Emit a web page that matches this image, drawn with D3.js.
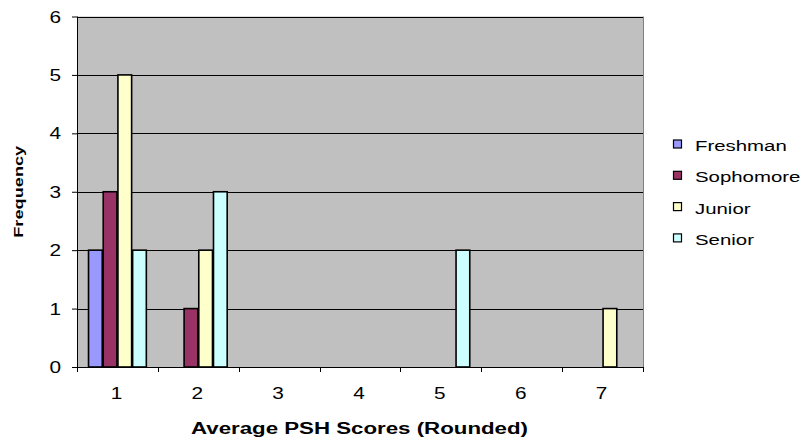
<!DOCTYPE html>
<html><head><meta charset="utf-8">
<script src="https://cdn.jsdelivr.net/npm/d3@7"></script>
<style>body{margin:0;background:#fff}</style>
</head><body><svg id="c" width="807" height="442"></svg>
<script>
const categories = ["1","2","3","4","5","6","7"];
const seriesNames = ["Freshman","Sophomore","Junior","Senior"];
const freshman  = [2,0,0,0,0,0,0];
const sophomore = [3,1,0,0,0,0,0];
const junior    = [5,2,0,0,0,0,1];
const senior    = [2,3,0,0,2,0,0];
const yTicks = [0,1,2,3,4,5,6];
const colors = ["#9999FF","#993366","#FFFFCC","#CCFFFF"];
const seriesValues = [freshman, sophomore, junior, senior];

const svg = d3.select("#c");
const m = {l:77, r:643, t:16.5, b:367};
const font = "Liberation Sans, Arial, sans-serif";
const SX = 1.35;

function stext(g, x, y, txt, size, anchor, bold, sx) {
  return g.append("text").attr("transform",`translate(${x},${y}) scale(${sx||SX},1)`)
    .attr("text-anchor",anchor).attr("font-family",font).attr("font-size",size)
    .attr("font-weight",bold?"bold":"normal").attr("fill","#000").text(txt);
}

const x = d3.scaleBand().domain(categories).range([m.l, m.r]).paddingInner(0).paddingOuter(0);
// gap width 150%: bandwidth = 5.5w; outer padding each side 0.75w
const w = x.bandwidth()/5.5;
const inner = d3.scaleBand().domain(seriesNames).range([0.75*w, 0.75*w + 4*w]).padding(0);
const y = d3.scaleLinear().domain([0,6]).range([m.b, m.t]);

svg.append("rect").attr("x",m.l).attr("y",m.t).attr("width",m.r-m.l).attr("height",m.b-m.t).attr("fill","#C0C0C0");

// gridlines
svg.append("g").selectAll("line").data(yTicks.filter(d=>d>0)).join("line")
  .attr("x1",m.l).attr("x2",m.r).attr("y1",d=>Math.round(y(d))+0.5).attr("y2",d=>Math.round(y(d))+0.5)
  .attr("stroke","#000").attr("stroke-width",1);
svg.append("line").attr("x1",m.r+0.5).attr("x2",m.r+0.5).attr("y1",m.t).attr("y2",m.b).attr("stroke","#808080");

// bars
seriesNames.forEach((s,i)=>{
  svg.append("g").selectAll("rect").data(seriesValues[i].map((v,j)=>({v,c:categories[j]})).filter(d=>d.v>0)).join("rect")
    .attr("x",d=>x(d.c)+inner(s)+0.5).attr("width",inner.bandwidth()-1)
    .attr("y",d=>y(d.v)).attr("height",d=>y(0)-y(d.v))
    .attr("fill",colors[i]).attr("stroke","#000").attr("stroke-width",1.6);
});

// y axis
const ya = svg.append("g").attr("transform",`translate(${m.l},0)`)
  .call(d3.axisLeft(y).tickValues(yTicks).tickSize(5).tickFormat(""));
ya.select(".domain").attr("d",`M0.5,${m.t}V${m.b}`).attr("stroke","#000");
ya.selectAll(".tick line").attr("stroke","#000");
const yl = svg.append("g");
yTicks.forEach(t=>stext(yl, 61, y(t)+6, d3.format("d")(t), 16, "end", false, 1.3));

// x axis
const xa = svg.append("g").attr("transform",`translate(0,${m.b})`);
xa.append("line").attr("x1",m.l).attr("x2",m.r).attr("y1",0.5).attr("y2",0.5).attr("stroke","#000");
xa.selectAll("line.t").data(d3.range(categories.length+1)).join("line").attr("class","t")
  .attr("x1",i=>Math.round(m.l+i*x.bandwidth())+0.5).attr("x2",i=>Math.round(m.l+i*x.bandwidth())+0.5)
  .attr("y1",0).attr("y2",5).attr("stroke","#000");
categories.forEach(c=>stext(xa, x(c)+x.bandwidth()/2-1, 32, c, 16, "middle", false, 1.3));

// axis titles
svg.append("text").attr("x",191).attr("y",434).attr("textLength",337).attr("lengthAdjust","spacingAndGlyphs")
  .attr("font-family",font).attr("font-size",16).attr("font-weight","bold")
  .text("Average PSH Scores (Rounded)");
svg.append("text").attr("transform",`translate(23,${(m.t+m.b)/2}) rotate(-90)`).attr("text-anchor","middle")
  .attr("font-family",font).attr("font-size",13).attr("font-weight","bold").attr("textLength",92).attr("lengthAdjust","spacingAndGlyphs")
  .text("Frequency");

// legend
const lg = svg.append("g");
seriesNames.forEach((s,i)=>{
  const cy = 144 + i*31.3;
  lg.append("rect").attr("x",673.5).attr("y",cy-4).attr("width",8).attr("height",8)
    .attr("fill",colors[i]).attr("stroke","#000").attr("stroke-width",1.2);
  stext(lg, 695, cy+7, s, 15, "start", false, 1.36);
});
</script></body></html>
